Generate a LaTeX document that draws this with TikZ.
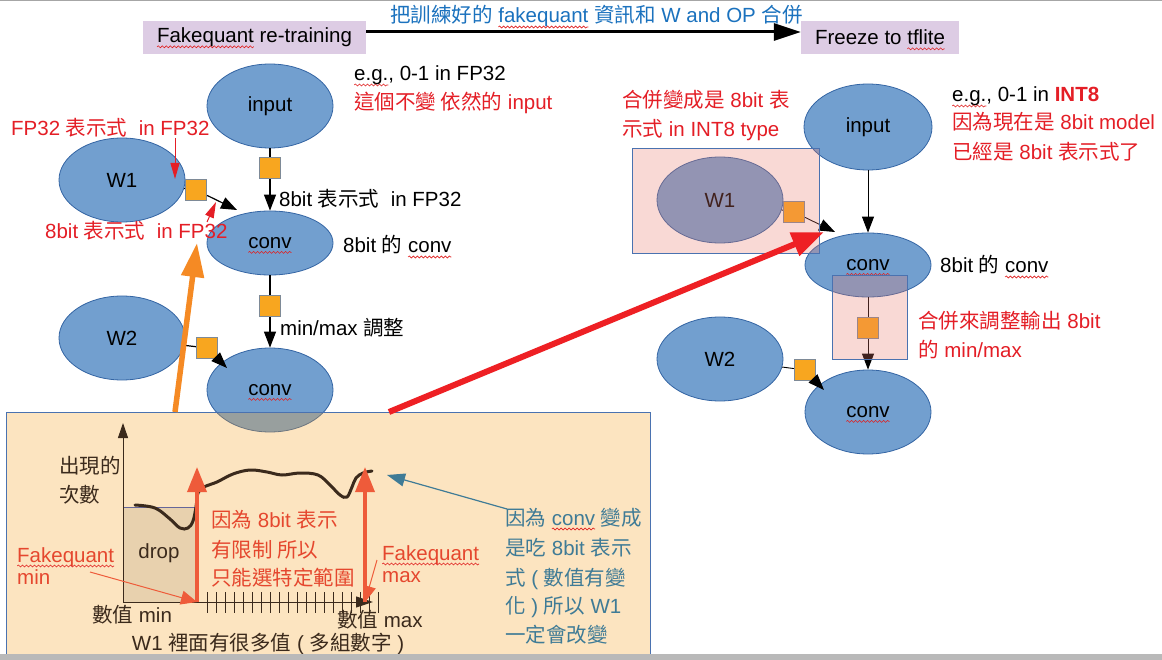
\documentclass[tikz,border=0pt]{standalone}
\usepackage{fontspec}
\setmainfont{Liberation Sans}
\newfontfamily\cjk{Noto Sans CJK TC}
\usetikzlibrary{arrows.meta,shapes.geometric,decorations.pathmorphing}
\definecolor{nblue}{HTML}{729FCF}
\definecolor{nbord}{HTML}{3465A4}
\definecolor{sqor}{HTML}{F8A61F}
\definecolor{sqbd}{HTML}{7E8A97}
\definecolor{lav}{HTML}{DDCCE4}
\definecolor{tred}{HTML}{E41E26}
\definecolor{tblue}{HTML}{1B72BE}
\definecolor{pinkov}{RGB}{234,121,107}
\definecolor{boxbd}{HTML}{4A72B0}
\definecolor{peachov}{RGB}{248,162,41}
\definecolor{bigor}{HTML}{F58A24}
\definecolor{bigred}{HTML}{EE2024}
\definecolor{pred}{HTML}{E5472E}
\definecolor{parr}{HTML}{EE5B3A}
\definecolor{tealtx}{HTML}{3F7B96}
\definecolor{brn}{HTML}{3B2A1C}
\definecolor{dropfill}{HTML}{E8D1AE}
\definecolor{spell}{HTML}{E02020}
\newcommand\fs{\fontsize{20.5pt}{24pt}\selectfont}
\newcommand\zh[1]{{\cjk #1}}
\newcommand\wv[1]{\setbox0=\hbox{#1}\edef\wvw{\the\wd0}\leavevmode\rlap{\copy0}\tikz[x=1pt,y=1pt,baseline=0pt]{\useasboundingbox (0pt,0pt) rectangle (\wvw,0pt);\draw[spell,line width=0.6pt,decorate,decoration={snake,amplitude=1pt,segment length=4pt}] (0pt,-4pt) -- (\wvw,-4pt);}}
\tikzset{
  every node/.style={font=\fs, inner sep=0pt},
  blob/.style={ellipse, fill=nblue, draw=nbord, line width=0.8pt, minimum width=126pt, minimum height=84pt},
  sqbox/.style={rectangle, fill=sqor, draw=sqbd, line width=1.2pt, minimum size=21pt},
  titlebox/.style={rectangle, fill=lav, minimum height=33pt},
  lbl/.style={anchor=base west},
  conn/.style={line width=1.2pt},
  connR/.style={line width=0.9pt},
  hd/.style={-{Triangle[length=16pt,width=12pt]}},
  redptr/.style={tred, line width=1pt, -{Triangle[length=16pt,width=9pt]}},
  pbox/.style={draw=boxbd, line width=0.9pt, fill=pinkov, fill opacity=0.28},
}
\begin{document}
\begin{tikzpicture}[x=1pt,y=-1pt]
\fill[white] (0,0) rectangle (1162,660);
\useasboundingbox (0,0) rectangle (1162,660);
\draw[gray!70, line width=1.2pt] (0,0.6) -- (1162,0.6);

% ---- top titles ----
\node[titlebox, minimum width=223pt] (tA) at (254.5,37.5) {\wv{Fakequant} re-training};
\node[titlebox, minimum width=158pt] (tB) at (880,37.5) {Freeze to \wv{tflite}};
\draw[line width=3pt, -{Triangle[length=27pt,width=17pt]}] ([yshift=5.5pt]tA.east) -- ([yshift=5.5pt]tB.west);
\node[lbl, text=tblue] (merge) at (390,23) {\zh{把訓練好的} \wv{fakequant} \zh{資訊和} W and OP \zh{合併}};

% ---- left graph ----
\node[blob] (inL) at (270,106) {input};
\node[blob, minimum height=64pt] (cvL) at (270,243) {\wv{conv}};
\node[blob] (W1L) at (122,180) {W1};
\node[blob] (W2L) at (122,338) {W2};
\node[blob] (cv2L) at (270,390) {\wv{conv}};
\node[sqbox] (sqa) at (270,168) {};
\node[sqbox] (sqb) at (270,306) {};
\node[sqbox] (sqW1) at (196,190) {};
\node[sqbox] (sqW2) at (207,348) {};
\coordinate (tW1) at (237,210);
\coordinate (tW2) at (227,368);
\draw[conn] (inL) -- (sqa);
\draw[conn,hd] (sqa) -- (cvL);
\draw[conn] (cvL) -- (sqb);
\draw[conn,hd] (sqb) -- (cv2L);
\draw[conn] (W1L) -- (sqW1);
\draw[conn,hd] (sqW1) -- (tW1);
\draw[conn] (W2L) -- (sqW2);
\draw[conn,hd] (sqW2) -- (tW2);

\node[lbl] (eg1) at (354,81) {\wv{e.g.}, 0-1 in FP32};
\node[lbl, text=tred] (keep) at (354,110) {\zh{這個不變 依然的} input};
\node[lbl, text=tred] (fp32) at (11,136) {FP32 \zh{表示式}\ \ in FP32};
\node[lbl, text=tred] (bitR) at (45,239) {8bit \zh{表示式}\ \ in FP32};
\node[lbl] (bitB) at (279,207) {8bit \zh{表示式}\ \ in FP32};
\node[lbl] (cvlbl) at (343,253) {8bit \zh{的} \wv{conv}};
\node[lbl] (mmlbl) at (280,335) {min/max \zh{調整}};
\coordinate (fpS) at (175,138);
\coordinate (fpT) at (175,179);
\coordinate (bS) at (207,222);
\coordinate (bT) at (216,202);
\draw[redptr] (fpS) -- (fpT);
\draw[redptr] (bS) -- (bT);

% ---- right graph ----
\node[blob, minimum width=128pt, minimum height=86pt] (inR) at (868,127) {input};
\node[blob, minimum height=86pt] (W1R) at (720,200) {W1};
\node[blob, minimum height=64pt] (cvR) at (868,265) {\wv{conv}};
\node[blob] (W2R) at (720,359) {W2};
\node[blob] (cv2R) at (868,412) {\wv{conv}};
\node[sqbox] (sqR1) at (794,212) {};
\node[sqbox] (sqR2) at (868,328) {};
\node[sqbox] (sqR3) at (805,370) {};
\coordinate (tR1) at (835,232);
\coordinate (tR3) at (824,390);
\draw[connR,hd] (inR) -- (cvR);
\draw[connR] (W1R) -- (sqR1);
\draw[connR,hd] (sqR1) -- (tR1);
\draw[connR] (cvR) -- (sqR2);
\draw[connR,hd] (sqR2) -- (cv2R);
\draw[connR] (W2R) -- (sqR3);
\draw[connR,hd] (sqR3) -- (tR3);
\draw[pbox] (632,148) rectangle (819,253);
\draw[pbox] (832,275) rectangle (907,359);

\node[lbl, text=tred] (m1) at (622,108) {\zh{合併變成是} 8bit \zh{表}};
\node[lbl, text=tred] (m2) at (622,137) {\zh{示式} in INT8 type};
\node[lbl] (eg2) at (952,102) {\wv{e.g.}, 0-1 in \textcolor{tred}{\bfseries INT8}};
\node[lbl, text=tred] (now1) at (952,130) {\zh{因為現在是} 8bit model};
\node[lbl, text=tred] (now2) at (952,160) {\zh{已經是} 8bit \zh{表示式了}};
\node[lbl] (cvlblR) at (940,273) {8bit \zh{的} \wv{conv}};
\node[lbl, text=tred] (mmR1) at (918,328) {\zh{合併來調整輸出} 8bit};
\node[lbl, text=tred] (mmR2) at (918,357) {\zh{的} min/max};

% ---- bottom panel ----
\fill[peachov, fill opacity=0.29] (6,412) rectangle (650,662);
\draw[boxbd, line width=0.9pt] (6,662) -- (6,412) -- (650,412) -- (650,662);

\coordinate (oS) at (175,412);
\coordinate (oT) at (197,243);
\coordinate (rS) at (389,412);
\coordinate (rT) at (824,232);
\draw[bigor, line width=5.5pt, -{Triangle[length=34pt,width=22pt]}] (oS) -- (oT);
\draw[bigred, line width=6pt, -{Triangle[length=32pt,width=24pt]}] (rS) -- (rT);

\fill[dropfill, draw=gray!80!blue, line width=1pt] (123,507) rectangle (197,602);
\node[text=brn] (drop) at (159,553) {drop};
\coordinate (org) at (123,602);
\coordinate (ytip) at (123,423);
\coordinate (xtip) at (373,602);
\draw[brn, line width=1pt, -{Triangle[length=15pt,width=10pt]}] (org) -- (ytip);
\draw[brn, line width=1pt, -{Triangle[length=17pt,width=11pt]}] (org) -- (xtip);
\foreach \i in {0,...,19} \draw[brn, line width=1pt] (207+9*\i,592) -- (207+9*\i,613);
\draw[brn, line width=3pt, line cap=round] plot[smooth, tension=0.6] coordinates {
 (135,505) (155,508) (170,519) (180,528) (188,528) (193,521) (196,507) (198,493) (204,487)
 (217,482) (233,474) (250,470) (267,472) (282,475) (300,473) (318,475) (330,485) (340,495)
 (347,497) (352,487) (356,478) (363,473) (372,471)};
\coordinate (a1S) at (197,602);
\coordinate (a1T) at (197,467);
\coordinate (a2S) at (365,602);
\coordinate (a2T) at (365,467);
\draw[parr, line width=3.5pt, -{Triangle[length=25pt,width=19pt]}] (a1S) -- (a1T);
\draw[parr, line width=3.5pt, -{Triangle[length=25pt,width=19pt]}] (a2S) -- (a2T);
\coordinate (cminS) at (90,572);
\coordinate (cminT) at (197,602);
\coordinate (cmaxS) at (377,560);
\coordinate (cmaxT) at (365,602);
\draw[parr, line width=1pt, -{Triangle[length=16pt,width=14pt]}] (cminS) -- (cminT);
\draw[parr, line width=1pt, -{Triangle[length=16pt,width=13pt]}] (cmaxS) -- (cmaxT);
\coordinate (tlS) at (507,509);
\coordinate (tlT) at (387,475);
\draw[tealtx, line width=1.2pt, -{Triangle[length=18pt,width=13pt]}] (tlS) -- (tlT);

\node[lbl, text=brn] (yl1) at (59,473) {\zh{出現的}};
\node[lbl, text=brn] (yl2) at (59,502) {\zh{次數}};
\node[lbl, text=pred] (fqmin1) at (17,562) {\wv{Fakequant}};
\node[lbl, text=pred] (fqmin2) at (17,584) {min};
\node[lbl, text=brn] (vmin) at (92,622) {\zh{數值} min};
\node[lbl, text=brn] (vmax) at (337,627) {\zh{數值} max};
\node[anchor=base, text=brn] (many) at (268,650) {W1 \zh{裡面有很多值} ( \zh{多組數字} )};
\node[lbl, text=pred] (lim1) at (211,527) {\zh{因為} 8bit \zh{表示}};
\node[lbl, text=pred] (lim2) at (211,557) {\zh{有限制 所以}};
\node[lbl, text=pred] (lim3) at (211,585) {\zh{只能選特定範圍}};
\node[lbl, text=pred] (fqmax1) at (382,560) {\wv{Fakequant}};
\node[lbl, text=pred] (fqmax2) at (382,582) {max};
\node[lbl, text=tealtx] (c1) at (505,525) {\zh{因為} \wv{conv} \zh{變成}};
\node[lbl, text=tealtx] (c2) at (505,555) {\zh{是吃} 8bit \zh{表示}};
\node[lbl, text=tealtx] (c3) at (505,585) {\zh{式} ( \zh{數值有變}};
\node[lbl, text=tealtx] (c4) at (505,613) {\zh{化} ) \zh{所以} W1};
\node[lbl, text=tealtx] (c5) at (505,642) {\zh{一定會改變}};

\fill[gray!55] (0,654) rectangle (1162,660);
\end{tikzpicture}
\end{document}
